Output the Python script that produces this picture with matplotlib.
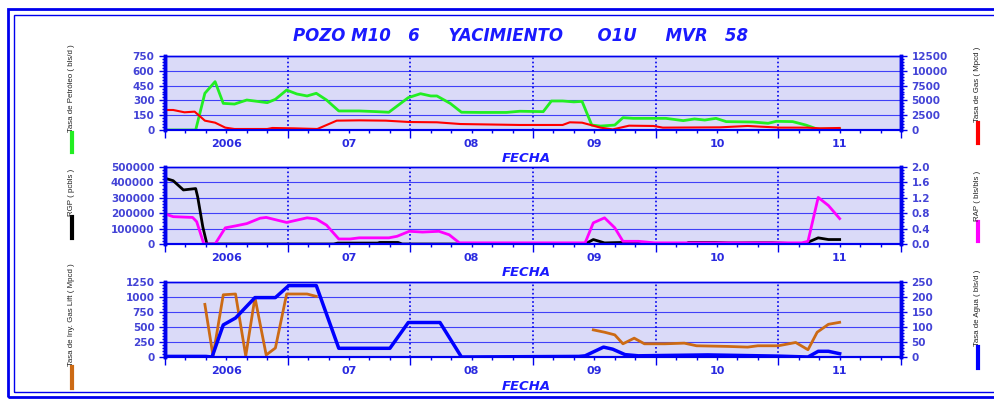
import numpy as np
import matplotlib.pyplot as plt
from matplotlib.lines import Line2D
from matplotlib.patches import Rectangle
from matplotlib.ticker import MultipleLocator, FixedLocator, NullFormatter
from matplotlib import font_manager
import matplotlib.transforms as mtrans

nan = np.nan

# x = months counted from Jul 2005
year_labels = ["2006", "07", "08", "09", "10", "11"]
year_pos = [6, 18, 30, 42, 54, 66]
half_years = [12, 24, 36, 48, 60]

# top panel: oil (bls/d, left) and gas (Mpcd, right)
oil_m = [0, 3, 3.9, 4.9, 5.7, 6.8, 8, 10, 10.8, 11.9, 12.9, 13.9, 14.8, 15.8, 17, 19, 20.7, 21.9,
         23.8, 25, 26, 26.6, 27.9, 29, 30.8, 33.4, 34.7, 37, 37.8, 38.9, 40, 40.8, 41.75, 42.6, 44,
         44.8, 45.8, 49, 50.7, 51.8, 52.8, 53.9, 54.9, 57.5, 59, 59.8, 61.4, 62.7, 63.8, 66]
oil = [0, 0, 372, 490, 270, 263, 304, 277, 311, 405, 365, 345, 372, 304, 193, 193, 186, 180,
       328, 368, 345, 345, 270, 180, 178, 178, 190, 186, 294, 294, 285, 290, 50, 40, 50,
       125, 118, 118, 95, 112, 101, 118, 85, 81, 68, 88, 85, 50, 10, 10]
gas_m = [0, 0.8, 1.9, 2.9, 3.9, 4.9, 5.9, 6.8, 10, 10.5, 12.6, 14.9, 16.8, 19, 21.6, 23.9, 26.6,
         28.9, 34.7, 38.9, 39.6, 40.8, 42.6, 43.8, 45.4, 47.8, 48.7, 54.3, 57, 58.3, 60.2, 62.8,
         64.1, 66]
gas = [3380, 3380, 2990, 3100, 1580, 1240, 400, 170, 170, 340, 280, 170, 1580, 1630, 1580, 1350,
       1300, 1010, 850, 850, 1300, 1240, 400, 100, 730, 680, 400, 450, 680, 560, 400, 400, 280, 340]

# middle panel: RGP (pcbls, left) and RAP (bls/bls, right)
rgp_m = [0, 0.8, 1.8, 3, 3.2, 3.7, 4.1, 16.5, 16.9, 20.8, 21, 22.8, 23.2, 41.1, 41.9, 43, 44.7,
         46.3, 47, 51, 51.2, 53.8, 55.1, 56.4, 57.7, 59.4, 62.5, 63.9, 64.9, 66]
rgp = [427000, 411000, 351000, 360000, 305000, 111000, 0, 0, 6000, 6000, 10000, 10000, 0, 0,
       29000, 7000, 10000, 10000, 0, 0, 10000, 10000, 7000, 7000, 8000, 8000, 0, 40000, 29000, 29000]
rap_m = [0, 0.8, 2.7, 3.1, 3.8, 4.9, 5.9, 6.9, 8, 9.3, 9.9, 11.9, 13.9, 14.8, 15.8, 17, 18.1, 19,
         21.9, 22.7, 23.9, 25.2, 26.8, 27.8, 28.8, 41.1, 41.9, 43, 44, 44.8, 46.3, 47.9, 62.3, 62.9,
         63.9, 64.9, 66]
rap = [0.78, 0.71, 0.69, 0.58, 0, 0, 0.42, 0.47, 0.53, 0.67, 0.69, 0.56, 0.68, 0.65, 0.49, 0.13,
       0.13, 0.16, 0.16, 0.2, 0.33, 0.31, 0.33, 0.24, 0.03, 0.03, 0.55, 0.68, 0.42, 0.07, 0.07,
       0.03, 0.03, 0.07, 1.21, 1.0, 0.66]

# bottom panel: gas lift injection (Mpcd, left) and water (bls/d, right)
gl_m = [3.9, 4.7, 5.7, 6.9, 7.9, 8.8, 9.9, 10.8, 11.9, 13.9, 14.8, 28, 41.9, 43, 44, 44.8, 45.9,
        46.9, 48.9, 50.8, 52, 55.1, 57, 58, 60, 61.7, 62.9, 63.8, 64.9, 66]
gl = [877, 17, 1037, 1050, 17, 992, 34, 150, 1050, 1050, 1010, nan, 452, 413, 369, 220, 314,
      220, 220, 231, 187, 176, 165, 187, 187, 242, 121, 413, 545, 578]
wat_m = [0, 4, 4.6, 5.7, 6.9, 8.8, 10.8, 12.1, 14.8, 17, 22, 23.8, 26.9, 29, 40.5, 41.1, 42.9,
         43.8, 45, 46.3, 53.1, 60, 62.9, 63.9, 64.9, 66]
wat = [2, 2, 0, 107, 130, 198, 198, 238, 238, 29, 29, 115, 115, 0, 2, 4, 33, 26, 8, 4, 7, 3, 0,
       19, 19, 11]

W, H = 995, 399
fig = plt.figure(figsize=(W / 100, H / 100), dpi=100)


def fx(px):
    return px / W


def fy(py):
    return 1 - py / H


BLUE = '#0000ee'
TXT = '#4343d6'
PANEL = '#dadaf8'

# narrow font for the side labels if there is one
installed = {f.name for f in font_manager.fontManager.ttflist}
if 'Liberation Sans Narrow' in installed:
    NARROW, NSIZE = 'Liberation Sans Narrow', 6.5
else:
    NARROW, NSIZE = 'Liberation Sans', 5.7

# double frame
fig.patches.append(Rectangle((fx(8), fy(397)), 2, fy(9) - fy(397), transform=fig.transFigure,
                             fill=False, ec=BLUE, lw=2))
fig.patches.append(Rectangle((fx(14), fy(392)), 2, fy(15) - fy(392), transform=fig.transFigure,
                             fill=False, ec=BLUE, lw=1))

fig.text(fx(521), fy(36), "POZO M10   6     YACIMIENTO      O1U     MVR   58", ha='center',
         va='center', fontsize=12, weight='bold', style='italic', color='#1a1aff')


def panel(top, bot, lmax, rmax, fecha_y):
    ax = fig.add_axes([fx(165), fy(bot), fx(901) - fx(165), fy(top) - fy(bot)])
    ax.set_facecolor(PANEL)
    ax.set_xlim(0, 72)
    ax.set_ylim(0, lmax)
    ax.yaxis.set_major_locator(MultipleLocator(lmax / 5))
    ax.yaxis.set_minor_locator(MultipleLocator(lmax / 25))
    ax.xaxis.set_major_locator(FixedLocator([0] + half_years + [72]))
    ax.xaxis.set_minor_locator(MultipleLocator(2))
    ax.xaxis.set_major_formatter(NullFormatter())
    ax.grid(axis='y', color='#4040f8', lw=0.8)
    for m in half_years:
        ax.axvline(m, color=BLUE, ls=(0, (1, 1.5)), lw=1.2)
    ax.set_axisbelow(True)
    ax2 = ax.twinx()
    ax2.set_ylim(0, rmax)
    ax2.yaxis.set_major_locator(MultipleLocator(rmax / 5))
    ax2.yaxis.set_minor_locator(MultipleLocator(rmax / 25))
    for a in (ax, ax2):
        for s in a.spines.values():
            s.set_color(BLUE)
        a.spines['left'].set_linewidth(2.5)
        a.spines['right'].set_linewidth(2.5)
        a.spines['top'].set_linewidth(1)
        a.spines['bottom'].set_linewidth(1.5)
        a.tick_params(which='both', colors=BLUE, labelcolor=TXT, labelsize=7.5, width=1)
        a.tick_params(which='major', length=4)
        a.tick_params(which='minor', length=2)
        for lab in a.get_yticklabels():
            lab.set_fontweight('bold')
    ax.tick_params(axis='x', which='major', length=6)
    tr = mtrans.blended_transform_factory(ax.transData, ax.transAxes)
    for p, lab in zip(year_pos, year_labels):
        ax.text(p, -0.12, lab, transform=tr, ha='center', va='top', fontsize=8, weight='bold',
                color='#2a2ae0')
    fig.text(fx(502), fy(fecha_y), "FECHA", ha='left', va='center', fontsize=9.5, weight='bold',
             style='italic', color='#1a1aff')
    return ax, ax2


def side_label(x, seg_top, seg_bot, text, color):
    fig.lines.append(Line2D([fx(x), fx(x)], [fy(seg_bot), fy(seg_top)], transform=fig.transFigure,
                            color=color, lw=3))
    fig.text(fx(x), fy(seg_top - 1), text, rotation=90, ha='center', va='bottom', fontsize=NSIZE,
             family=NARROW, color='#222222')


ax, ax2 = panel(56, 130, 750, 12500, 158)
ax.plot(oil_m, oil, color='#22ee22', lw=2)
ax2.plot(gas_m, gas, color='#ff0000', lw=1.5)
side_label(72, 133, 152, "Tasa de Petróleo ( bls/d )", '#22ee22')
side_label(978, 123, 143, "Tasa de Gas ( Mpcd )", '#ff0000')

ax, ax2 = panel(167, 244, 500000, 2.0, 272)
ax.plot(rgp_m, rgp, color='#000000', lw=2)
ax2.plot(rap_m, rap, color='#ff00ff', lw=2)
ax2.yaxis.set_major_formatter(plt.FormatStrFormatter('%.1f'))
for lab in ax2.get_yticklabels():
    lab.set_fontweight('bold')
side_label(72, 217, 238, "RGP ( pcbls )", '#000000')
side_label(978, 222, 241, "RAP ( bls/bls )", '#ff00ff')

ax, ax2 = panel(282, 357, 1250, 250, 387)
ax.plot(gl_m, gl, color='#cc6a14', lw=2)
ax2.plot(wat_m, wat, color='#0000ff', lw=2.5)
side_label(72, 367, 388, "Tasa de Iny. Gas Lift ( Mpcd )", '#cc6a14')
side_label(978, 347, 368, "Tasa de Agua ( bls/d )", '#0000ff')

fig.savefig("out.png", dpi=100)
